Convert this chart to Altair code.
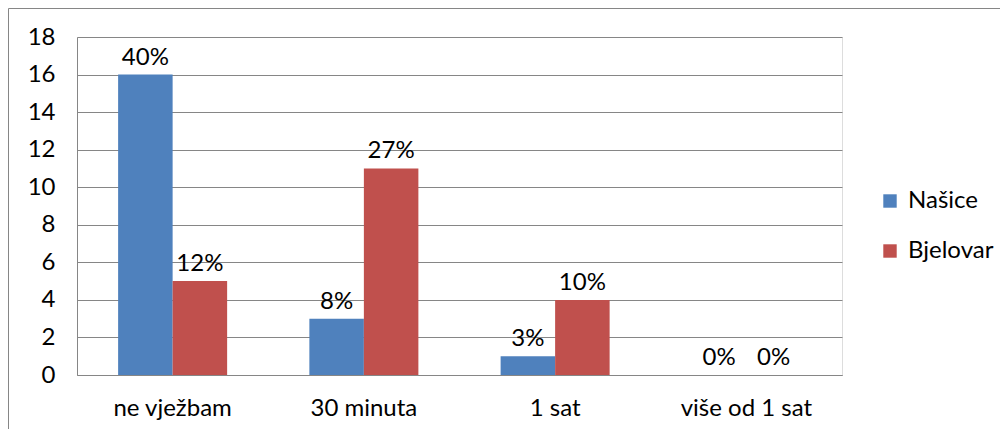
import altair as alt
import pandas as pd

categories = ["ne vježbam", "30 minuta", "1 sat", "više od 1 sat"]
series = ["Našice", "Bjelovar"]
nasice = [16, 3, 1, 0]
bjelovar = [5, 11, 4, 0]
nasice_pct = ["40%", "8%", "3%", "0%"]
bjelovar_pct = ["12%", "27%", "10%", "0%"]
colors = ["#4F81BD", "#C0504D"]
y_ticks = [0, 2, 4, 6, 8, 10, 12, 14, 16, 18]

rows = []
for i, c in enumerate(categories):
    rows.append({"cat": c, "series": series[0], "value": nasice[i], "label": nasice_pct[i]})
    rows.append({"cat": c, "series": series[1], "value": bjelovar[i], "label": bjelovar_pct[i]})
df = pd.DataFrame(rows)

FONT = "Lato"
FS = 24
GRID = "#868686"

x = alt.X("cat:N", sort=categories, title=None,
          scale=alt.Scale(paddingInner=0.43, paddingOuter=0.215),
          axis=alt.Axis(labelAngle=0, ticks=False, domain=True, domainColor=GRID,
                        labelPadding=21, labelFontSize=FS, labelFont=FONT, labelColor="black"))
y = alt.Y("value:Q", title=None,
          scale=alt.Scale(domain=[0, 18], nice=False),
          axis=alt.Axis(values=y_ticks, ticks=False, domain=True, domainColor=GRID,
                        grid=True, gridColor=GRID, labelPadding=22, labelFontSize=FS,
                        labelFont=FONT, labelColor="black", labelOverlap=False))
xo = alt.XOffset("series:N", sort=series, scale=alt.Scale(paddingInner=0, paddingOuter=0))
color = alt.Color("series:N", sort=series, scale=alt.Scale(domain=series, range=colors),
                  legend=alt.Legend(title=None, orient="none", legendX=801, legendY=152,
                                    symbolType="square", symbolSize=180, symbolStrokeWidth=0,
                                    labelFontSize=FS, labelFont=FONT, labelColor="black",
                                    rowPadding=26, labelOffset=6))

bars = alt.Chart(df).mark_bar().encode(x=x, y=y, xOffset=xo, color=color)
labels = alt.Chart(df).mark_text(dy=-17, font=FONT, fontSize=FS, color="black").encode(
    x=x, y=y, xOffset=xo, text="label:N")

frame = alt.Chart(alt.Data(values=[{}])).mark_rect(fill=None, stroke=GRID, strokeWidth=1).encode(
    x=alt.value(-68.5), x2=alt.value(1100), y=alt.value(-28.5), y2=alt.value(600))

chart = alt.layer(frame, bars, labels).properties(
    width=765, height=338,
    autosize=alt.AutoSizeParams(type="none"),
    padding={"left": 69, "top": 29, "right": 158, "bottom": 54},
).configure_view(stroke=None).configure(background="white")

chart.save("out.html", embed_options={"renderer": "svg", "actions": False})
